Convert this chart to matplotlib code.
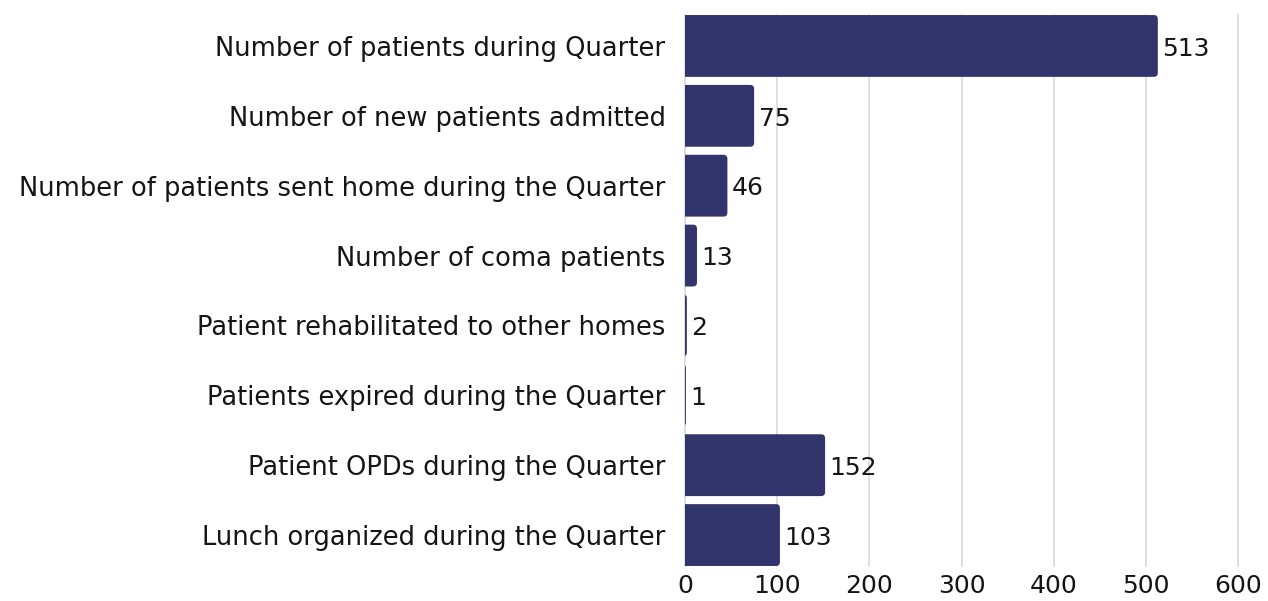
import matplotlib.pyplot as plt
from matplotlib.patches import FancyBboxPatch

# data
categories = [
    "Number of patients during Quarter",
    "Number of new patients admitted",
    "Number of patients sent home during the Quarter",
    "Number of coma patients",
    "Patient rehabilitated to other homes",
    "Patients expired during the Quarter",
    "Patient OPDs during the Quarter",
    "Lunch organized during the Quarter",
]
values = [513, 75, 46, 13, 2, 1, 152, 103]
x_ticks = [0, 100, 200, 300, 400, 500, 600]

bar_color = "#32356b"
text_color = "#151515"

plt.rcParams["font.family"] = ["DejaVu Sans"]

fig = plt.figure(figsize=(12.68, 6.01), dpi=100)
ax = fig.add_axes([685 / 1268, 1 - 566 / 601, 553 / 1268, 551 / 601])

pos = list(range(len(categories)))
bar_h = 0.885
bars = ax.barh(pos, values, height=bar_h, color=bar_color, zorder=3)

# swap plain bars for ones with rounded right corners
px_x = 600 / 553.0   # data units per pixel on x
px_y = 7.886 / 551.0  # data units per pixel on y
for b in bars:
    b.set_visible(False)
    x0 = -20
    w = b.get_width() - x0
    r = min(4 * px_x, w / 2)
    fb = FancyBboxPatch((x0, b.get_y()), w, b.get_height(),
                        boxstyle=f"round,pad=0,rounding_size={r}",
                        mutation_aspect=px_y / px_x,
                        facecolor=bar_color, edgecolor="none", zorder=3)
    ax.add_patch(fb)

for p, v in zip(pos, values):
    ax.text(v + 5, p + 0.04, str(v), va="center", ha="left", fontsize=18, color=text_color)

ax.set_xlim(0, 600)
ax.set_ylim(len(categories) - 1 + 0.443, -0.443)
ax.set_xticks(x_ticks)
ax.set_yticks(pos)
ax.set_yticklabels(categories)
ax.tick_params(axis="y", length=0, pad=14, labelsize=18.5, labelcolor=text_color)
ax.tick_params(axis="x", length=0, pad=6, labelsize=18, labelcolor=text_color)

for t in x_ticks:
    ax.axvline(t, color="#d9d9d9", linewidth=1.2, zorder=0, clip_on=False)
for s in ax.spines.values():
    s.set_visible(False)

plt.savefig("out.png", dpi=100)
